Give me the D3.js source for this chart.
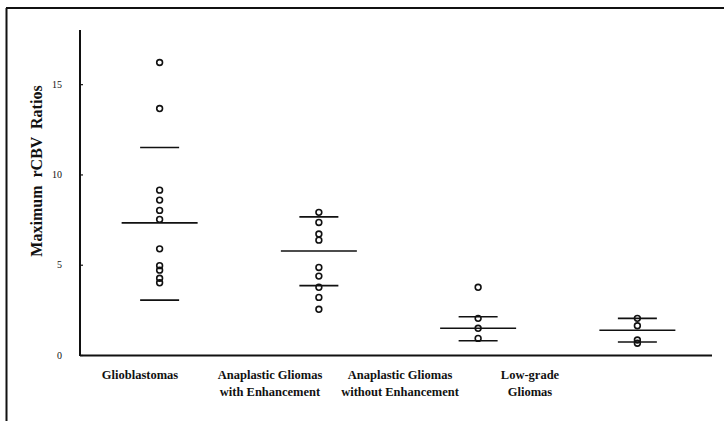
<!DOCTYPE html>
<html>
<head>
<meta charset="utf-8">
<script src="https://cdn.jsdelivr.net/npm/d3@7"></script>
<style>
  html, body { margin: 0; padding: 0; background: #fff; }
  svg { display: block; }
  text { font-family: "Liberation Serif", "Times New Roman", serif; fill: #111; }
</style>
</head>
<body>
<svg id="chart" width="724" height="421"></svg>
<script>
// ---- data ----
const categories = ["Glioblastomas", "Anaplastic Gliomas with Enhancement", "Anaplastic Gliomas without Enhancement", "Low-grade Gliomas"];
const labelLines = [["Glioblastomas"], ["Anaplastic Gliomas", "with Enhancement"], ["Anaplastic Gliomas", "without Enhancement"], ["Low-grade", "Gliomas"]];
const glioblastomas = [16.2, 13.65, 9.13, 8.58, 8.01, 7.51, 5.88, 4.95, 4.7, 4.25, 4.0];
const anaplasticWith = [7.9, 7.34, 6.7, 6.36, 4.85, 4.37, 3.75, 3.19, 2.53];
const anaplasticWithout = [3.75, 2.03, 1.48, 0.92];
const lowGrade = [2.03, 1.62, 0.83, 0.65];
const means = [7.32, 5.76, 1.48, 1.37];
const upperSD = [11.49, 7.65, 2.12, 2.03];
const lowerSD = [3.04, 3.84, 0.79, 0.72];
const yTicks = [0, 5, 10, 15];
const yTitle = "Maximum  rCBV  Ratios";

const series = [glioblastomas, anaplasticWith, anaplasticWithout, lowGrade];

// ---- layout ----
const svg = d3.select("#chart");
const x = d3.scaleBand().domain(categories).range([80, 717]).padding(0);
const xLabel = d3.scalePoint().domain(categories).range([140, 530]);
const y = d3.scaleLinear().domain([0, 18]).range([355, 30]);

// frame (top and left)
svg.append("line").attr("x1", 6).attr("x2", 724).attr("y1", 8).attr("y2", 8)
  .attr("stroke", "#111").attr("stroke-width", 2);
svg.append("line").attr("x1", 6.5).attr("x2", 6.5).attr("y1", 8).attr("y2", 421)
  .attr("stroke", "#111").attr("stroke-width", 2);

// y axis
const yAxis = d3.axisLeft(y).tickValues(yTicks).tickSize(-3).tickPadding(18).tickFormat(d3.format("d"));
const gy = svg.append("g").attr("transform", "translate(80,0)").call(yAxis);
gy.select(".domain").attr("stroke", "#111").attr("stroke-width", 2).attr("d", `M0,${y(18)}V${y(0) + 1}`);
gy.selectAll(".tick line").attr("stroke", "#111").attr("stroke-width", 1.2);
gy.selectAll(".tick text").style("font-family", "'Liberation Serif', serif").style("font-size", "10px").attr("fill", "#222");

// x axis baseline
svg.append("line").attr("x1", 80).attr("x2", 712).attr("y1", y(0) + 0.5).attr("y2", y(0) + 0.5)
  .attr("stroke", "#111").attr("stroke-width", 2);

// y title
svg.append("text")
  .attr("transform", `translate(42,${171}) rotate(-90)`)
  .attr("text-anchor", "middle")
  .style("font-size", "16px").style("font-weight", "bold")
  .style("white-space", "pre")
  .text(yTitle);

// category labels
categories.forEach((c, i) => {
  const t = svg.append("text").attr("text-anchor", "middle")
    .attr("x", xLabel(c)).attr("y", 379)
    .style("font-size", "12.5px").style("font-weight", "bold");
  labelLines[i].forEach((ln, j) => {
    t.append("tspan").attr("x", xLabel(c)).attr("dy", j === 0 ? 0 : 17).text(ln);
  });
});

// mean & SD lines
const cx = c => x(c) + x.bandwidth() / 2;
categories.forEach((c, i) => {
  const g = svg.append("g");
  g.append("line").attr("x1", cx(c) - 38).attr("x2", cx(c) + 38)
    .attr("y1", y(means[i])).attr("y2", y(means[i])).attr("stroke", "#111").attr("stroke-width", 1.6);
  [upperSD[i], lowerSD[i]].forEach(v => {
    g.append("line").attr("x1", cx(c) - 19.5).attr("x2", cx(c) + 19.5)
      .attr("y1", y(v)).attr("y2", y(v)).attr("stroke", "#111").attr("stroke-width", 1.6);
  });
});

// points
categories.forEach((c, i) => {
  svg.append("g").selectAll("circle").data(series[i]).join("circle")
    .attr("cx", cx(c)).attr("cy", d => y(d)).attr("r", 2.9)
    .attr("fill", "none").attr("stroke", "#111").attr("stroke-width", 1.6);
});
</script>
</body>
</html>
